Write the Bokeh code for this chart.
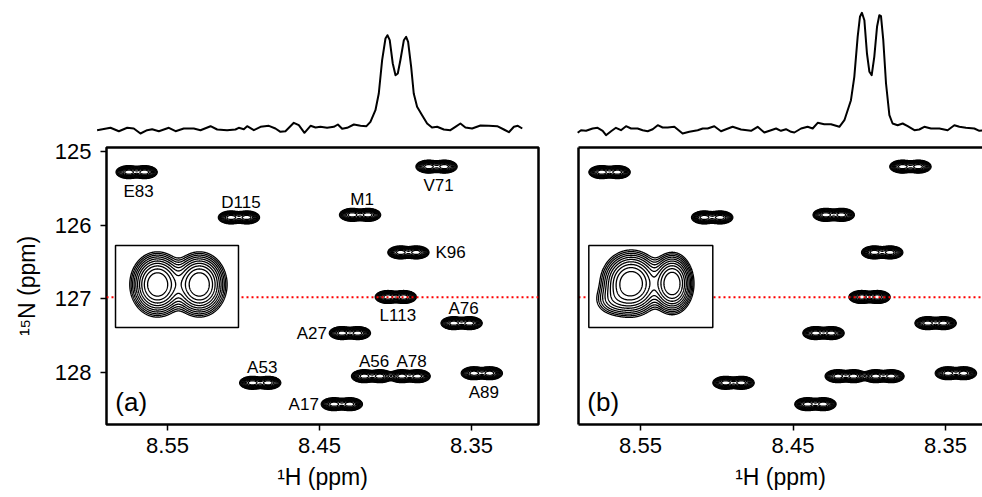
import numpy as np
from bokeh.plotting import figure
from bokeh.layouts import row, column
from bokeh.models import Range1d, FixedTicker, LinearAxis, ColumnDataSource
from bokeh.embed import file_html
from bokeh.resources import INLINE
from bokeh.core.properties import value

FONT = "Liberation Sans"

# ---------------- data ----------------
peak_labels = ["E83", "D115", "M1", "V71", "K96", "L113", "A76", "A27",
               "A53", "A56", "A78", "A89", "A17"]
peak_H = [8.5703, 8.5030, 8.4233, 8.3730, 8.3915, 8.3998, 8.3565, 8.4300,
          8.4890, 8.4154, 8.3907, 8.3432, 8.4353]
peak_N = [125.28, 125.895, 125.86, 125.205, 126.37, 126.975, 127.33, 127.465,
          128.14, 128.05, 128.05, 128.01, 128.43]
label_side = ["below", "above", "above", "below", "right", "below", "above", "left",
              "above", "above", "above", "below", "left"]

# doublet splitting and line widths (ppm)
J_H = 0.0105
SIG_H = 0.0034
SIG_N = 0.036
contour_levels = sorted(0.75 * 0.74 ** k for k in range(10))
inset_levels = sorted(0.68 * 0.745 ** k for k in range(10))

# 1H slice at 15N = 126.98 ppm
slice_N = 126.98

spec_a_H = [8.5963, 8.5875, 8.5820, 8.5765, 8.5722, 8.5678, 8.5634, 8.5601, 8.5557, 8.5491,
            8.5447, 8.5393, 8.5327, 8.5283, 8.5217, 8.5173, 8.5108, 8.5053, 8.5031, 8.4998,
            8.4976, 8.4932, 8.4888, 8.4833, 8.4790, 8.4757, 8.4724, 8.4669, 8.4636, 8.4599,
            8.4559, 8.4526, 8.4494, 8.4450, 8.4406, 8.4379, 8.4351, 8.4318, 8.4274, 8.4230,
            8.4191, 8.4165, 8.4132, 8.4110, 8.4088, 8.4066, 8.4053, 8.4038, 8.4018, 8.4000,
            8.3985, 8.3968, 8.3945, 8.3930, 8.3917, 8.3897, 8.3880, 8.3858, 8.3825, 8.3792,
            8.3760, 8.3726, 8.3682, 8.3639, 8.3606, 8.3573, 8.3540, 8.3496, 8.3441, 8.3386,
            8.3331, 8.3287, 8.3254, 8.3221, 8.3195, 8.3166]
spec_a_I = [-0.017, 0.007, -0.027, 0.007, 0.000, -0.050, -0.017, -0.007, -0.027, 0.007,
            -0.027, 0.000, 0.000, -0.017, 0.023, -0.010, -0.017, -0.010, 0.007, -0.007,
            0.023, -0.017, 0.017, 0.027, 0.000, -0.033, -0.027, 0.057, 0.033, -0.043,
            0.027, 0.010, 0.017, 0.007, 0.017, 0.040, -0.003, 0.007, 0.040, 0.027,
            0.023, 0.067, 0.183, 0.350, 0.683, 0.900, 0.933, 0.883, 0.650, 0.533,
            0.550, 0.683, 0.883, 0.917, 0.867, 0.617, 0.350, 0.217, 0.133, 0.050,
            0.010, 0.017, -0.010, -0.017, 0.017, 0.050, 0.010, 0.000, 0.030, 0.027,
            0.023, -0.010, -0.037, 0.017, 0.027, 0.000]

spec_b_H = [8.5912, 8.5890, 8.5857, 8.5814, 8.5781, 8.5748, 8.5726, 8.5693, 8.5661, 8.5628,
            8.5595, 8.5562, 8.5519, 8.5486, 8.5453, 8.5420, 8.5387, 8.5355, 8.5322, 8.5278,
            8.5224, 8.5180, 8.5125, 8.5092, 8.5060, 8.5016, 8.4972, 8.4939, 8.4896, 8.4841,
            8.4775, 8.4732, 8.4688, 8.4644, 8.4611, 8.4579, 8.4546, 8.4513, 8.4491, 8.4447,
            8.4404, 8.4371, 8.4338, 8.4295, 8.4251, 8.4196, 8.4163, 8.4120, 8.4098, 8.4076,
            8.4061, 8.4048, 8.4032, 8.4015, 8.3999, 8.3984, 8.3967, 8.3949, 8.3934, 8.3923,
            8.3908, 8.3890, 8.3868, 8.3847, 8.3814, 8.3781, 8.3748, 8.3704, 8.3672, 8.3639,
            8.3595, 8.3540, 8.3486, 8.3442, 8.3409, 8.3366, 8.3311, 8.3278, 8.3250]
spec_b_I = [-0.043, -0.017, -0.023, 0.000, 0.007, -0.023, -0.067, -0.027, 0.007, -0.017,
            0.023, 0.000, 0.000, -0.017, -0.027, -0.007, 0.033, 0.010, 0.010, 0.017,
            -0.050, -0.033, -0.017, 0.000, 0.000, 0.023, -0.027, -0.007, 0.017, -0.010,
            -0.023, 0.017, -0.040, -0.017, 0.000, -0.023, -0.007, -0.033, -0.040, 0.000,
            0.017, 0.000, 0.057, 0.043, 0.043, 0.017, 0.083, 0.283, 0.517, 0.917,
            1.117, 1.157, 1.083, 0.750, 0.567, 0.533, 0.717, 1.017, 1.133, 1.123,
            0.883, 0.450, 0.133, 0.050, 0.033, 0.050, 0.023, -0.017, -0.010, 0.017,
            0.000, 0.000, -0.017, 0.033, 0.017, 0.007, 0.000, -0.023, -0.020]

# zoomed insets of the L113 cross peak: lobes (H, N, amplitude, sigma_H, sigma_N)
inset_a_box = (8.5842, 8.5033, 126.276, 127.389)   # left, right, top, bottom
inset_a_H = [8.5566, 8.5290]
inset_a_N = [126.805, 126.805]
inset_a_amp = [1.0, 1.0]
inset_a_sH = [0.0074, 0.0074]
inset_a_sN = [0.180, 0.180]

inset_b_box = (8.5839, 8.5026, 126.276, 127.389)
inset_b_H = [8.5561, 8.5292, 8.5684]
inset_b_N = [126.792, 126.792, 127.023]
inset_b_amp = [1.0, 1.0, 0.12]
inset_b_sH = [0.0083, 0.0058, 0.0066]
inset_b_sN = [0.185, 0.172, 0.110]

x_ticks = [8.55, 8.45, 8.35]
y_ticks = [125, 126, 127, 128]
N_top, N_bottom = 124.9457, 128.7059


# ---------------- helpers ----------------
def no_align(p):
    try:
        p.frame_align = False
    except Exception:
        pass


def gauss2d(X, Y, h, n, a, sh, sn):
    return a * np.exp(-((X - h) ** 2) / (2 * sh ** 2) - ((Y - n) ** 2) / (2 * sn ** 2))


def main_surface(x0, x1, nx=720, ny=480):
    xs = np.linspace(min(x0, x1), max(x0, x1), nx)
    ys = np.linspace(N_top, N_bottom, ny)
    X, Y = np.meshgrid(xs, ys)
    Z = np.zeros_like(X)
    for h, n in zip(peak_H, peak_N):
        Z += gauss2d(X, Y, h + J_H / 2, n, 1.0, SIG_H, SIG_N)
        Z += gauss2d(X, Y, h - J_H / 2, n, 1.0, SIG_H, SIG_N)
    return xs, ys, Z


def inset_surface(box, Hs, Ns, amps, sHs, sNs, nx=300, ny=220):
    l, r, t, b = box
    pad_x = 0.0012
    pad_y = 0.02
    xs = np.linspace(min(l, r) + pad_x, max(l, r) - pad_x, nx)
    ys = np.linspace(t + pad_y, b - pad_y, ny)
    X, Y = np.meshgrid(xs, ys)
    Z = np.zeros_like(X)
    for h, n, a, sh, sn in zip(Hs, Ns, amps, sHs, sNs):
        Z += gauss2d(X, Y, h, n, a, sh, sn)
    return xs, ys, Z


def style_axis(ax):
    ax.major_label_text_font = FONT
    ax.major_label_text_font_size = "22px"
    ax.major_label_text_color = "black"
    ax.axis_label_text_font = FONT
    ax.axis_label_text_font_size = "23px"
    ax.axis_label_text_font_style = "normal"
    ax.axis_label_text_color = "black"
    ax.major_tick_in = 0
    ax.major_tick_out = 6
    ax.major_tick_line_width = 1.5
    ax.major_tick_line_color = "black"
    ax.minor_tick_line_color = None


def spectrum_fig(width, x0, x1, H, I):
    p = figure(width=width, height=140, x_range=Range1d(x0, x1), y_range=Range1d(-0.12, 1.28),
               x_axis_location=None, y_axis_location=None, min_border=0,
               outline_line_color=None, toolbar_location=None, output_backend="svg")
    no_align(p)
    p.grid.visible = False
    p.line(H, I, line_width=2, line_color="black", line_join="round")
    return p


def hsqc_fig(width, x0, x1, border_left, border_right, show_y, letter,
             inset_box, inset_params, with_labels):
    p = figure(width=width, height=357, x_range=Range1d(x0, x1),
               y_range=Range1d(N_bottom, N_top), toolbar_location=None,
               output_backend="svg", min_border_left=border_left,
               min_border_right=border_right, min_border_top=7, min_border_bottom=73)
    no_align(p)
    p.grid.visible = False
    p.background_fill_color = "white"
    p.border_fill_color = "white"

    style_axis(p.xaxis[0])
    p.xaxis.ticker = FixedTicker(ticks=x_ticks)
    p.xaxis.major_label_standoff = 7
    p.xaxis.axis_label = "\u00b9H (ppm)"
    p.xaxis.axis_label_standoff = 8

    style_axis(p.yaxis[0])
    if show_y:
        p.yaxis.ticker = FixedTicker(ticks=y_ticks)
        p.yaxis.axis_label = "\u00b9\u2075N (ppm)"
        p.yaxis.major_label_standoff = 9
        p.yaxis.axis_label_standoff = 12
        p.outline_line_color = "black"
        p.outline_line_width = 2.5
        p.xaxis.axis_line_color = None
        p.yaxis.axis_line_color = None
    else:
        p.yaxis.ticker = FixedTicker(ticks=[])
        p.yaxis.major_tick_out = 0
        p.outline_line_color = None
        p.yaxis.axis_line_width = 2.5
        p.xaxis.axis_line_width = 2.5
        top = LinearAxis(ticker=FixedTicker(ticks=[]), axis_line_width=2.5,
                         major_tick_out=0, minor_tick_out=0)
        p.add_layout(top, "above")

    xs, ys, Z = main_surface(x0, x1)
    p.contour(xs, ys, Z, contour_levels, line_color="black", line_width=1.2)

    p.line([x0, x1], [slice_N, slice_N], line_color="red", line_width=2, line_dash="2 3")

    l, r, t, b = inset_box
    p.quad(left=[l], right=[r], top=[t], bottom=[b], fill_color="white",
           line_color="black", line_width=1.5)
    ixs, iys, IZ = inset_surface(inset_box, *inset_params)
    p.contour(ixs, iys, IZ, inset_levels, line_color="black", line_width=1.3)

    if with_labels:
        off = {"above": (2, -15, "center"), "below": (2, 19, "center"),
               "left": (-23, 0, "right"), "right": (27, 0, "left")}
        src = ColumnDataSource(dict(
            x=peak_H, y=peak_N, text=peak_labels,
            xo=[off[s][0] for s in label_side], yo=[off[s][1] for s in label_side],
            al=[off[s][2] for s in label_side]))
        p.text(x="x", y="y", text="text", x_offset="xo", y_offset="yo", text_align="al",
               text_baseline="middle", text_font=value(FONT), text_font_size="17px",
               text_color="black", source=src)

    p.text(x=[x0 - 0.0058], y=[128.40], text=[letter], text_align="left",
           text_baseline="middle", text_font=value(FONT), text_font_size="26px",
           text_color="black")
    return p


# panel (a): page x 0..560
ax0, ax1 = 8.59013, 8.30592
top_a = spectrum_fig(560, 8.65987, 8.29145, spec_a_H, spec_a_I)
bot_a = hsqc_fig(560, ax0, ax1, 106, 22, True, "(a)", inset_a_box,
                 (inset_a_H, inset_a_N, inset_a_amp, inset_a_sH, inset_a_sN), True)

# panel (b): page x 560..982
bx0, bx1 = 8.59066, 8.32574
top_b = spectrum_fig(422, 8.60246, 8.32574, spec_b_H, spec_b_I)
bot_b = hsqc_fig(422, bx0, bx1, 18, 0, False, "(b)", inset_b_box,
                 (inset_b_H, inset_b_N, inset_b_amp, inset_b_sH, inset_b_sN), False)

layout = row(column(top_a, bot_a), column(top_b, bot_b))

open("out.html", "w").write(file_html(layout, INLINE))
